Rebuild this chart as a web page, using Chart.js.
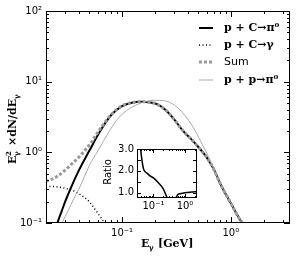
<!DOCTYPE html>
<html lang="en">
<head>
<meta charset="UTF-8">
<title>pC gamma spectrum</title>
<script src="https://cdn.jsdelivr.net/npm/chart.js"></script>
<style>
    body { margin: 0; padding: 0; background: #fff; }
    .wrap { position: relative; width: 301px; height: 258px; }
    #main { position: absolute; left: 0; top: 0; }
    #inset { position: absolute; left: 95px; top: 140px; }
</style>
</head>
<body>
<div class="wrap">
    <canvas id="main" width="301" height="258"></canvas>
    <canvas id="inset" width="105" height="75"></canvas>
</div>
<script>
// p + C -> pi0 (black solid)
const pcPi0E = [0.02, 0.0225, 0.0254, 0.028, 0.03, 0.0334, 0.04, 0.05, 0.063, 0.08, 0.1, 0.12, 0.15, 0.18, 0.21, 0.25, 0.3, 0.36, 0.43, 0.5, 0.6, 0.7, 0.8, 1.0, 1.2, 1.35];
const pcPi0Y = [0.04, 0.065, 0.1, 0.15, 0.2, 0.3, 0.55, 1.05, 2.0, 3.4, 4.5, 5.0, 5.2, 5.1, 4.8, 4.0, 2.95, 2.05, 1.55, 1.2, 0.85, 0.57, 0.36, 0.19, 0.115, 0.09];
// p + C -> gamma (dotted)
const pcGamE = [0.02, 0.025, 0.03, 0.035, 0.04, 0.045, 0.05, 0.055, 0.06, 0.065, 0.07, 0.075];
const pcGamY = [0.33, 0.325, 0.31, 0.29, 0.26, 0.23, 0.2, 0.165, 0.137, 0.115, 0.097, 0.08];
// Sum (grey dashed)
const sumE = [0.02, 0.025, 0.03, 0.035, 0.04, 0.05, 0.063, 0.08, 0.1, 0.12, 0.15, 0.18, 0.21, 0.25, 0.3, 0.36, 0.43, 0.5, 0.6, 0.7, 0.8, 1.0, 1.2, 1.35];
const sumY = [0.385, 0.45, 0.56, 0.7, 0.85, 1.27, 2.15, 3.45, 4.55, 5.0, 5.2, 5.1, 4.8, 4.0, 2.95, 2.05, 1.55, 1.2, 0.85, 0.57, 0.36, 0.19, 0.115, 0.09];
// p + p -> pi0 (thin grey)
const ppE = [0.028, 0.032, 0.036, 0.04, 0.045, 0.05, 0.06, 0.075, 0.09, 0.11, 0.14, 0.17, 0.2, 0.24, 0.28, 0.33, 0.38, 0.44, 0.5, 0.56, 0.62, 0.7, 0.8, 1.0, 1.2, 1.35];
const ppY = [0.1, 0.15, 0.22, 0.3, 0.45, 0.65, 1.05, 1.9, 2.9, 3.9, 4.8, 5.3, 5.45, 5.4, 5.0, 4.2, 3.3, 2.4, 1.7, 1.2, 0.88, 0.57, 0.36, 0.19, 0.115, 0.09];
// inset ratio
const ratioE = [0.036, 0.039, 0.043, 0.048, 0.055, 0.0635, 0.08, 0.1, 0.143, 0.205, 0.268, 0.3, 0.5, 0.525, 0.6, 0.7, 1.0, 1.6, 2.4];
const ratioY = [3.6, 3.0, 2.5, 2.1, 1.95, 1.88, 1.75, 1.67, 1.45, 1.17, 0.78, 0.7, 0.7, 0.78, 0.92, 0.95, 0.99, 1.02, 1.04];

const powLabels = { '-1': '10\u207B\u00B9', '0': '10\u2070', '1': '10\u00B9', '2': '10\u00B2' };
const legendItems = ['p + C\u2192\u03C0\u2070', 'p + C\u2192\u03B3', 'Sum', 'p + p\u2192\u03C0\u2070'];

function pts(xs, ys) { return xs.map((x, i) => ({ x: x, y: ys[i] })); }

function powLabel(v) {
    const e = Math.log10(v);
    if (Math.abs(e - Math.round(e)) < 1e-6) return powLabels[String(Math.round(e))] || '';
    return '';
}

function logTicks(min, max) {
    const out = [];
    for (let e = Math.floor(Math.log10(min)); e <= Math.ceil(Math.log10(max)); e++) {
        for (let m = 1; m < 10; m++) {
            const v = m * Math.pow(10, e);
            if (v >= min * 0.9999 && v <= max * 1.0001) out.push({ v: v, major: m === 1 });
        }
    }
    return out;
}

// box with inward ticks on all sides
function drawFrame(chart, xt, yt, maj, mnr) {
    const ctx = chart.ctx, a = chart.chartArea;
    const xs = chart.scales.x, ys = chart.scales.y;
    ctx.save();
    ctx.strokeStyle = '#000';
    ctx.lineWidth = 1;
    ctx.strokeRect(a.left + 0.5, a.top + 0.5, a.right - a.left - 1, a.bottom - a.top - 1);
    ctx.beginPath();
    xt.forEach(t => {
        const px = Math.round(xs.getPixelForValue(t.v)) + 0.5;
        const l = t.major ? maj : mnr;
        ctx.moveTo(px, a.bottom); ctx.lineTo(px, a.bottom - l);
        ctx.moveTo(px, a.top); ctx.lineTo(px, a.top + l);
    });
    yt.forEach(t => {
        const py = Math.round(ys.getPixelForValue(t.v)) + 0.5;
        const l = t.major ? maj : mnr;
        ctx.moveTo(a.left, py); ctx.lineTo(a.left + l, py);
        ctx.moveTo(a.right, py); ctx.lineTo(a.right - l, py);
    });
    ctx.stroke();
    ctx.restore();
}

const mainPlugin = {
    id: 'mainDeco',
    afterDraw(chart) {
        drawFrame(chart, logTicks(0.02, 3.5), logTicks(0.1, 100), 6, 3);
        const ctx = chart.ctx;
        ctx.save();
        ctx.fillStyle = '#000';
        // legend
        const ly = [28, 45, 62, 80];
        const styles = [
            { c: '#000', w: 2, d: [] },
            { c: '#000', w: 1.5, d: [1, 2.5] },
            { c: '#999', w: 3, d: [3, 2] },
            { c: '#aaa', w: 1, d: [] }
        ];
        ly.forEach((y, i) => {
            const s = styles[i];
            ctx.beginPath();
            ctx.strokeStyle = s.c; ctx.lineWidth = s.w; ctx.setLineDash(s.d);
            ctx.moveTo(199, y); ctx.lineTo(213, y);
            ctx.stroke();
            ctx.setLineDash([]);
            ctx.font = i === 2 ? '11px "DejaVu Sans"' : 'bold 11px "DejaVu Serif"';
            ctx.textAlign = 'left'; ctx.textBaseline = 'middle';
            ctx.fillText(legendItems[i], 224, y);
        });
        // x title
        ctx.textBaseline = 'alphabetic';
        ctx.font = 'bold 11px "DejaVu Serif"';
        ctx.fillText('E', 141, 247);
        ctx.font = 'bold 7px "DejaVu Serif"';
        ctx.fillText('\u03B3', 149, 250);
        ctx.font = 'bold 11px "DejaVu Serif"';
        ctx.fillText('[GeV]', 158, 247);
        // y title
        ctx.translate(16, 118);
        ctx.rotate(-Math.PI / 2);
        ctx.textAlign = 'left';
        let x0 = -46;
        ctx.font = 'bold 11px "DejaVu Serif"';
        ctx.fillText('E', x0, 0);
        ctx.font = 'bold 7px "DejaVu Serif"';
        ctx.fillText('2', x0 + 8, -5);
        ctx.fillText('\u03B3', x0 + 8, 3);
        ctx.font = 'bold 11px "DejaVu Serif"';
        ctx.fillText('\u00D7dN/dE', x0 + 18, 0);
        const w = ctx.measureText('\u00D7dN/dE').width;
        ctx.font = 'bold 7px "DejaVu Serif"';
        ctx.fillText('\u03B3', x0 + 18 + w, 3);
        ctx.restore();
    }
};

new Chart(document.getElementById('main'), {
    type: 'line',
    data: {
        datasets: [
            { data: pts(ppE, ppY), borderColor: '#aaa', borderWidth: 1 },
            { data: pts(sumE, sumY), borderColor: '#999', borderWidth: 3, borderDash: [3, 2] },
            { data: pts(pcGamE, pcGamY), borderColor: '#000', borderWidth: 1.5, borderDash: [1, 2.5] },
            { data: pts(pcPi0E, pcPi0Y), borderColor: '#000', borderWidth: 2 }
        ]
    },
    options: {
        responsive: false,
        animation: false,
        elements: { point: { radius: 0 }, line: { tension: 0.35, cubicInterpolationMode: 'monotone' } },
        layout: { padding: { top: 11, right: 11, left: 0, bottom: 0 } },
        plugins: { legend: { display: false }, tooltip: { enabled: false } },
        scales: {
            x: {
                type: 'logarithmic', min: 0.02, max: 3.5,
                grid: { display: false, drawTicks: false },
                border: { display: false },
                ticks: { autoSkip: false, maxRotation: 0, padding: 4, color: '#000',
                         font: { family: 'DejaVu Sans', size: 10 }, callback: v => powLabel(v) },
                afterFit: s => { s.height = 35; }
            },
            y: {
                type: 'logarithmic', min: 0.1, max: 100,
                grid: { display: false, drawTicks: false },
                border: { display: false },
                ticks: { autoSkip: false, padding: 4, color: '#000',
                         font: { family: 'DejaVu Sans', size: 10 }, callback: v => powLabel(v) },
                afterFit: s => { s.width = 46; }
            }
        }
    },
    plugins: [mainPlugin]
});

const insetPlugin = {
    id: 'insetDeco',
    beforeDraw(chart) {
        const ctx = chart.ctx, a = chart.chartArea;
        ctx.save();
        ctx.fillStyle = '#fff';
        ctx.fillRect(a.left, a.top, a.right - a.left, a.bottom - a.top);
        ctx.restore();
    },
    afterDraw(chart) {
        const yt = [1.0, 1.5, 2.0, 2.5, 3.0].map(v => ({ v: v, major: true }));
        drawFrame(chart, logTicks(0.03, 2.4), yt, 4, 2);
        const ctx = chart.ctx;
        ctx.save();
        ctx.fillStyle = '#000';
        ctx.font = '10px "DejaVu Sans"';
        ctx.translate(13, 32);
        ctx.rotate(-Math.PI / 2);
        ctx.textAlign = 'center'; ctx.textBaseline = 'middle';
        ctx.fillText('Ratio', 0, 0);
        ctx.restore();
    }
};

new Chart(document.getElementById('inset'), {
    type: 'line',
    data: { datasets: [{ data: pts(ratioE, ratioY), borderColor: '#000', borderWidth: 1.5 }] },
    options: {
        responsive: false,
        animation: false,
        elements: { point: { radius: 0 }, line: { tension: 0.3, cubicInterpolationMode: 'monotone' } },
        layout: { padding: { top: 6, right: 3, left: 0, bottom: 0 } },
        plugins: { legend: { display: false }, tooltip: { enabled: false } },
        scales: {
            x: {
                type: 'logarithmic', min: 0.03, max: 2.4,
                grid: { display: false, drawTicks: false },
                border: { display: false },
                ticks: { autoSkip: false, maxRotation: 0, padding: 2, color: '#000',
                         font: { family: 'DejaVu Sans', size: 10 }, callback: v => powLabel(v) },
                afterFit: s => { s.height = 17; }
            },
            y: {
                min: 0.75, max: 3.0,
                afterBuildTicks: s => { s.ticks = [1.0, 1.5, 2.0, 2.5, 3.0].map(v => ({ value: v })); },
                grid: { display: false, drawTicks: false },
                border: { display: false },
                ticks: { padding: 3, color: '#000', font: { family: 'DejaVu Sans', size: 10 },
                         callback: v => v.toFixed(1) },
                afterFit: s => { s.width = 42; }
            }
        }
    },
    plugins: [insetPlugin]
});
</script>
</body>
</html>
